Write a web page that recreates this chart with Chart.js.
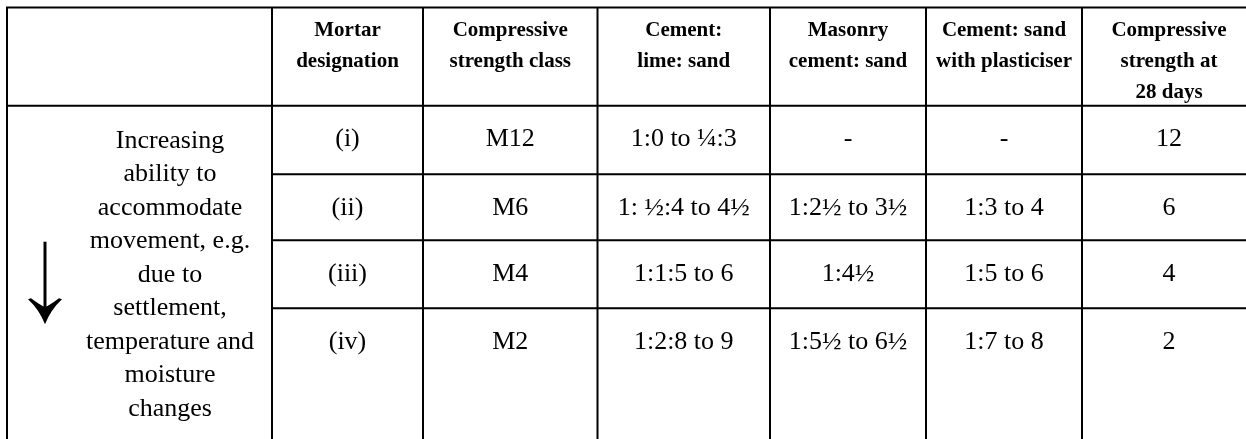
<!DOCTYPE html>
<html>
<head>
<meta charset="utf-8">
<script src="https://cdn.jsdelivr.net/npm/chart.js@4.4.1/dist/chart.umd.min.js"></script>
<style>
  html, body { margin: 0; padding: 0; background: #fff; }
  #wrap { width: 1246px; height: 439px; position: relative; }
</style>
</head>
<body>
<div id="wrap"><canvas id="table"></canvas></div>
<script>
/*
|=========================================|
|======== mortar designation table =======|
|=========================================|
*/

// header texts, one list of lines per column
const headers = [
	[],
	['Mortar', 'designation'],
	['Compressive', 'strength class'],
	['Cement:', 'lime: sand'],
	['Masonry', 'cement: sand'],
	['Cement: sand', 'with plasticiser'],
	['Compressive', 'strength at', '28 days']
];

// row values
const designations = ['(i)', '(ii)', '(iii)', '(iv)'];
const strengthClasses = ['M12', 'M6', 'M4', 'M2'];
const cementLimeSand = ['1:0 to \u00BC:3', '1: \u00BD:4 to 4\u00BD', '1:1:5 to 6', '1:2:8 to 9'];
const masonryCementSand = ['-', '1:2\u00BD to 3\u00BD', '1:4\u00BD', '1:5\u00BD to 6\u00BD'];
const cementSandPlasticiser = ['-', '1:3 to 4', '1:5 to 6', '1:7 to 8'];
const strength28Days = [12, 6, 4, 2];

// merged left cell
const sideNote = ['Increasing', 'ability to', 'accommodate', 'movement, e.g.', 'due to',
	'settlement,', 'temperature and', 'moisture', 'changes'];

// layout (table units, mapped through the chart scales)
const layout = {
	left: 7,
	top: 7.5,
	colWidths: [265, 151, 174.5, 172.5, 156, 156, 174],
	rowHeights: [98.2, 68.5, 66, 68.1, 140],
	headerFirstLine: 23,
	headerLineStep: 31,
	bodyLineOffset: 33.5,
	noteFirstLine: 35,
	noteLineStep: 33.5,
	noteCenter: 163,
	lineWidth: 2
};

function edges(start, sizes) {
	const out = [start];
	sizes.forEach((s) => out.push(out[out.length - 1] + s));
	return out;
}

const colEdges = edges(layout.left, layout.colWidths);
const rowEdges = edges(layout.top, layout.rowHeights);

const tablePlugin = {
	id: 'tablePlugin',
	beforeDraw(chart) {
		const c = chart.ctx;
		c.save();
		c.fillStyle = '#fff';
		c.fillRect(0, 0, chart.width, chart.height);
		c.restore();
	},
	afterDraw(chart) {
		const c = chart.ctx;
		const xs = chart.scales.x;
		const ys = chart.scales.y;
		const px = (v) => xs.getPixelForValue(v);
		const py = (v) => ys.getPixelForValue(v);
		const right = colEdges[colEdges.length - 1];
		const bottom = rowEdges[rowEdges.length - 1];

		c.save();
		c.strokeStyle = '#000';
		c.lineWidth = layout.lineWidth;

		// horizontal rules
		c.beginPath();
		c.moveTo(px(colEdges[0]), py(rowEdges[0]));
		c.lineTo(px(right), py(rowEdges[0]));
		c.moveTo(px(colEdges[0]), py(rowEdges[1]));
		c.lineTo(px(right), py(rowEdges[1]));
		for (let r = 2; r < rowEdges.length - 1; r++) {
			c.moveTo(px(colEdges[1]), py(rowEdges[r]));
			c.lineTo(px(right), py(rowEdges[r]));
		}
		// vertical rules
		colEdges.forEach((e) => {
			c.moveTo(px(e), py(rowEdges[0]) - 1);
			c.lineTo(px(e), py(bottom));
		});
		c.stroke();

		c.fillStyle = '#000';
		c.textAlign = 'center';
		c.textBaseline = 'middle';

		// header
		c.font = 'bold 21px "Liberation Serif", "Times New Roman", serif';
		headers.forEach((lines, i) => {
			const cx = px((colEdges[i] + colEdges[i + 1]) / 2);
			lines.forEach((t, k) => {
				c.fillText(t, cx, py(rowEdges[0] + layout.headerFirstLine + k * layout.headerLineStep));
			});
		});

		// body
		c.font = '26px "Liberation Serif", "Times New Roman", serif';
		const cols = [designations, strengthClasses, cementLimeSand, masonryCementSand,
			cementSandPlasticiser, strength28Days];
		cols.forEach((vals, j) => {
			const cx = px((colEdges[j + 1] + colEdges[j + 2]) / 2);
			vals.forEach((v, r) => {
				c.fillText(String(v), cx, py(rowEdges[r + 1] + layout.bodyLineOffset));
			});
		});

		// merged note cell
		sideNote.forEach((t, k) => {
			c.fillText(t, px(colEdges[0] + layout.noteCenter),
				py(rowEdges[1] + layout.noteFirstLine + k * layout.noteLineStep));
		});

		// downward arrow
		const ax = px(colEdges[0] + 38);
		const aTop = py(rowEdges[3] + 1.5);
		const aTip = py(rowEdges[3] + 84);
		c.lineWidth = 3;
		c.beginPath();
		c.moveTo(ax, aTop);
		c.lineTo(ax, aTip - 6);
		c.stroke();
		c.beginPath();
		c.moveTo(ax, aTip);
		c.quadraticCurveTo(ax - 6, aTip - 15, ax - 17, aTip - 25);
		c.lineTo(ax - 14, aTip - 26);
		c.quadraticCurveTo(ax - 6, aTip - 20, ax, aTip - 17);
		c.quadraticCurveTo(ax + 6, aTip - 20, ax + 14, aTip - 26);
		c.lineTo(ax + 17, aTip - 25);
		c.quadraticCurveTo(ax + 6, aTip - 15, ax, aTip);
		c.closePath();
		c.fill();
		c.restore();
	}
};

const chart = new Chart(document.getElementById('table').getContext('2d'), {
	type: 'scatter',
	data: { datasets: [] },
	options: {
		responsive: true,
		maintainAspectRatio: false,
		animation: false,
		events: [],
		layout: { padding: 0 },
		plugins: { legend: { display: false }, tooltip: { enabled: false } },
		scales: {
			x: { type: 'linear', min: 0, max: 1246, display: false },
			y: { type: 'linear', min: 0, max: 439, reverse: true, display: false }
		}
	},
	plugins: [tablePlugin]
});
</script>
</body>
</html>
